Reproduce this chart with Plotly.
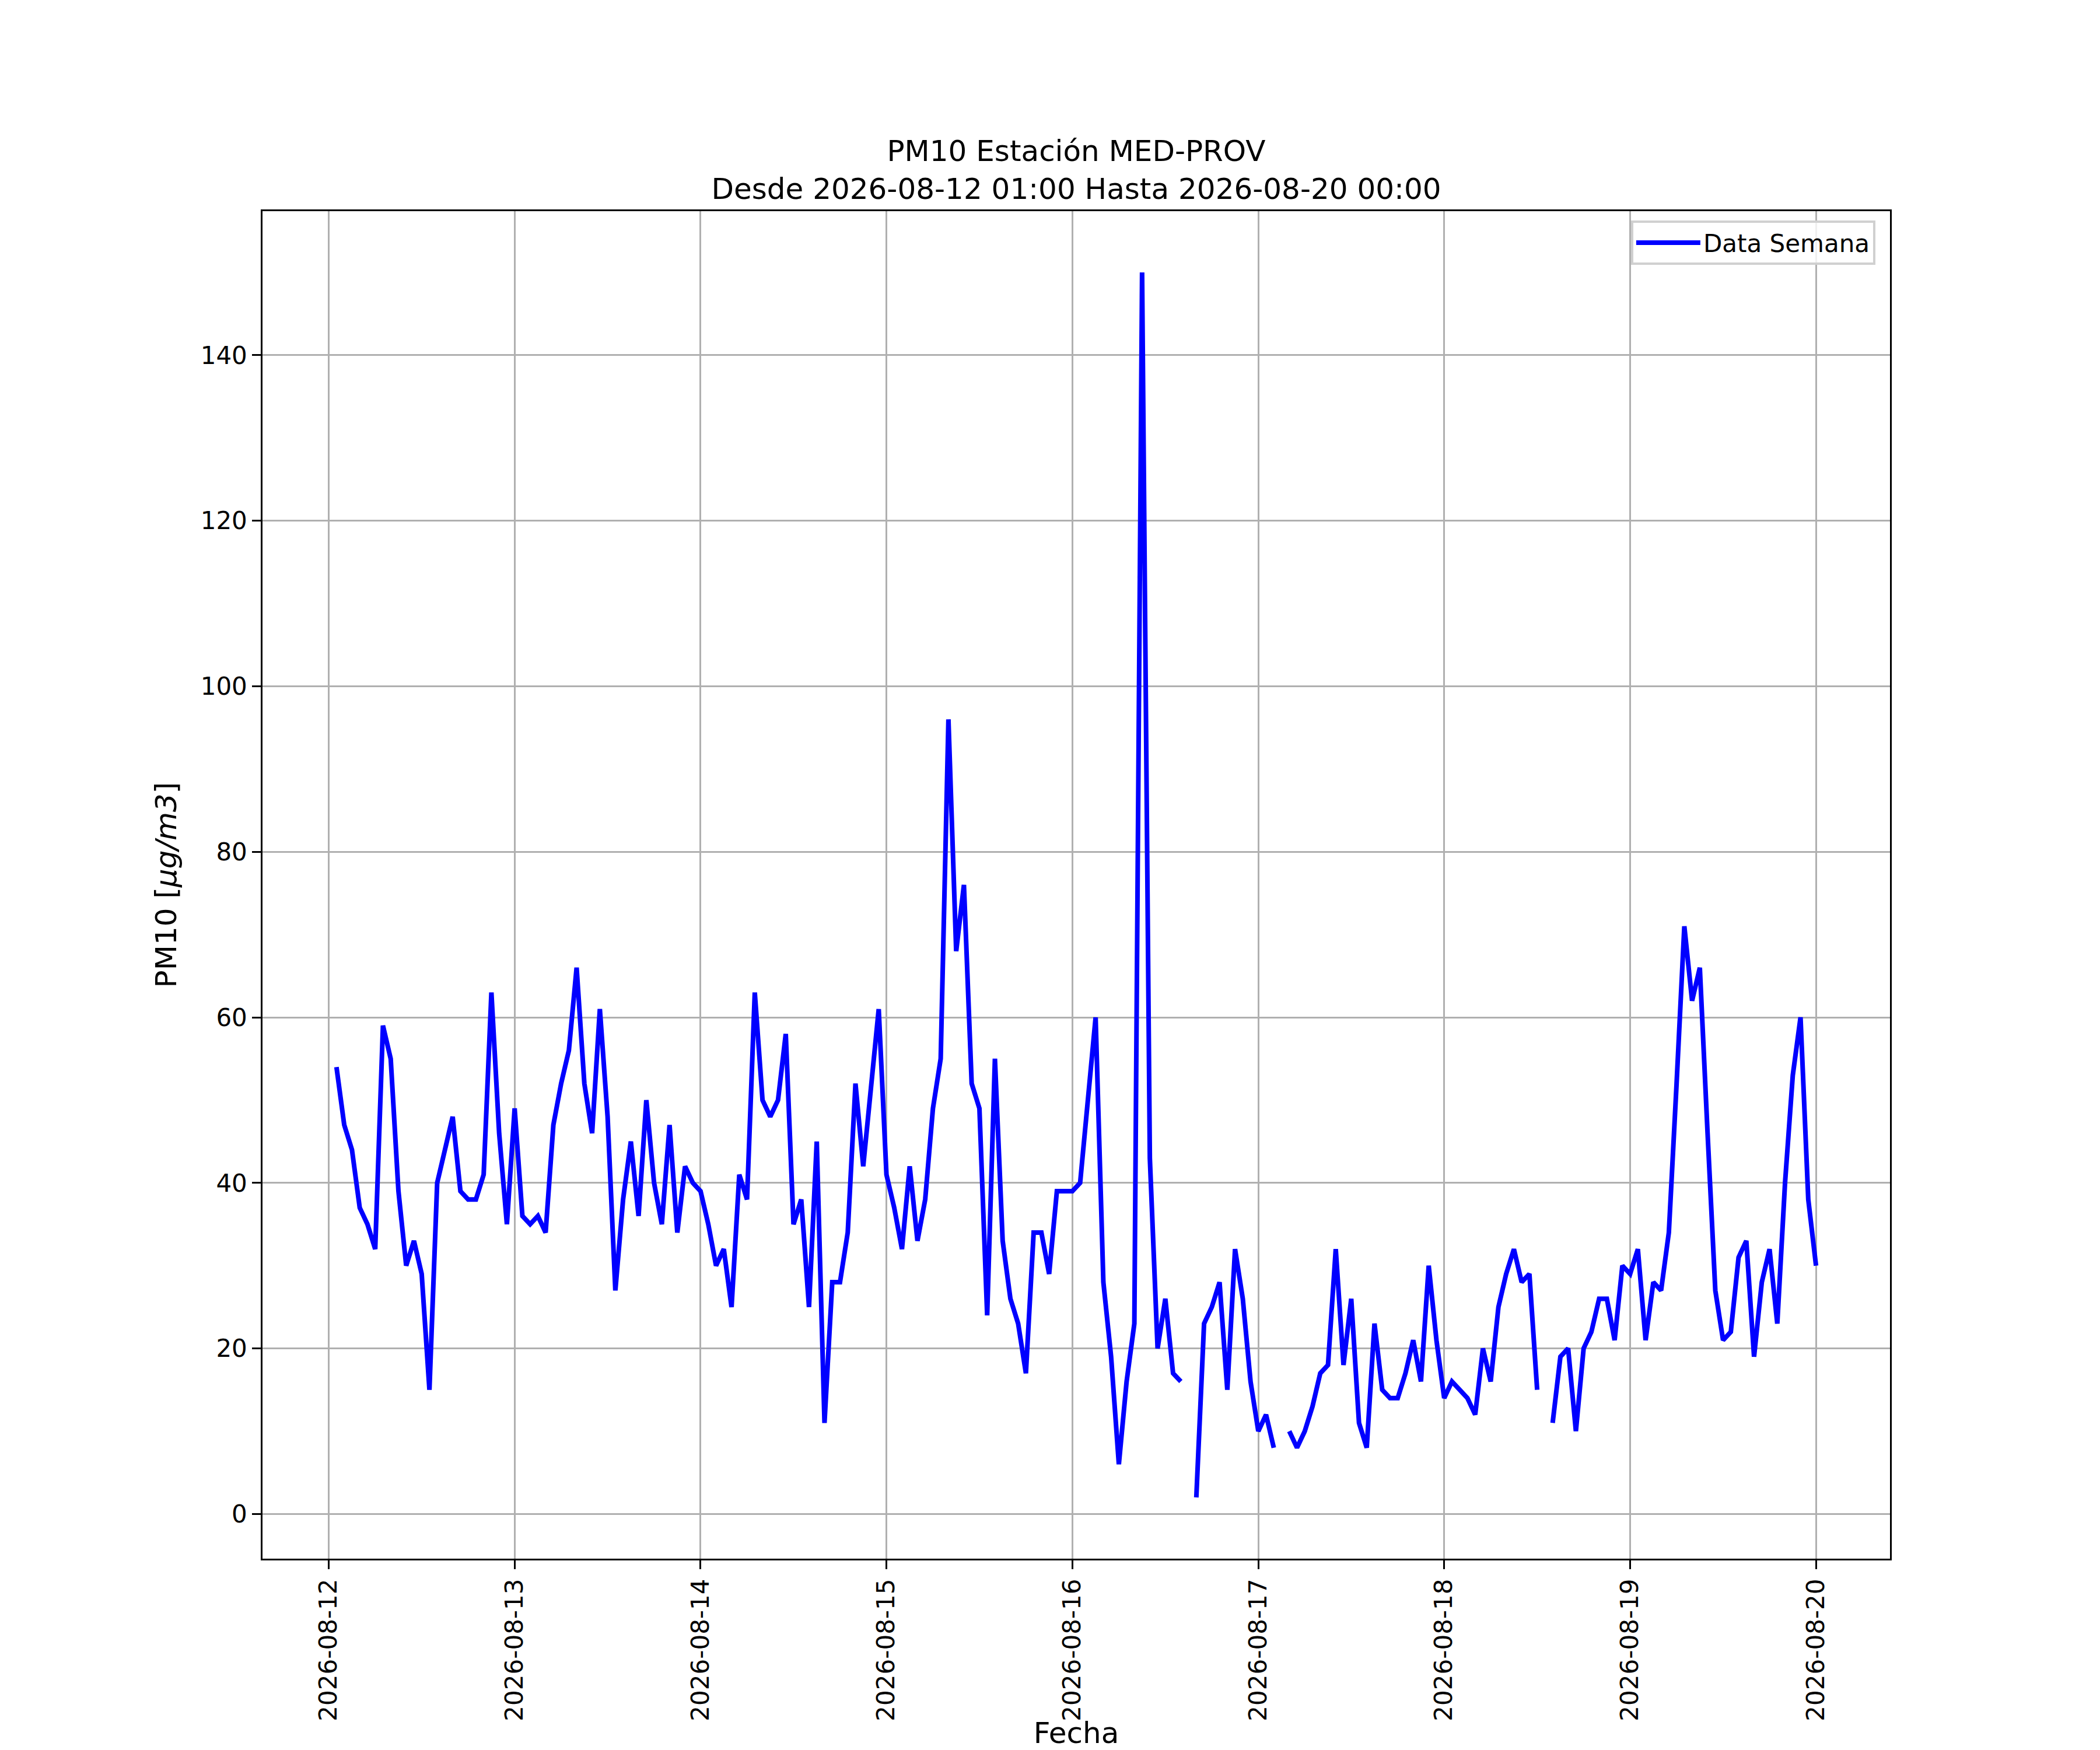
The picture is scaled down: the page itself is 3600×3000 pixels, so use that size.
import pandas as pd
import plotly.graph_objects as go

# PM10 hourly values, one list per day (01:00 ... 24:00), None = missing hour
day_12 = [54, 47, 44, 37, 35, 32, 59, 55, 39, 30, 33, 29, 15, 40, 44, 48, 39, 38, 38, 41, 63, 46, 35, 49]
day_13 = [36, 35, 36, 34, 47, 52, 56, 66, 52, 46, 61, 48, 27, 38, 45, 36, 50, 40, 35, 47, 34, 42, 40, 39]
day_14 = [35, 30, 32, 25, 41, 38, 63, 50, 48, 50, 58, 35, 38, 25, 45, 11, 28, 28, 34, 52, 42, 51, 61, 41]
day_15 = [37, 32, 42, 33, 38, 49, 55, 96, 68, 76, 52, 49, 24, 55, 33, 26, 23, 17, 34, 34, 29, 39, 39, 39]
day_16 = [40, 50, 60, 28, 19, 6, 16, 23, 150, 43, 20, 26, 17, 16, None, 2, 23, 25, 28, 15, 32, 26, 16, 10]
day_17 = [12, 8, None, 10, 8, 10, 13, 17, 18, 32, 18, 26, 11, 8, 23, 15, 14, 14, 17, 21, 16, 30, 21, 14]
day_18 = [16, 15, 14, 12, 20, 16, 25, 29, 32, 28, 29, 15, None, 11, 19, 20, 10, 20, 22, 26, 26, 21, 30, 29]
day_19 = [32, 21, 28, 27, 34, 52, 71, 62, 66, 46, 27, 21, 22, 31, 33, 19, 28, 32, 23, 40, 53, 60, 38, 30]

start = "2026-08-12 01:00"
end = "2026-08-20 00:00"
day_ticks = ["2026-08-12", "2026-08-13", "2026-08-14", "2026-08-15", "2026-08-16",
             "2026-08-17", "2026-08-18", "2026-08-19", "2026-08-20"]
y_ticks = [0, 20, 40, 60, 80, 100, 120, 140]

pm10 = day_12 + day_13 + day_14 + day_15 + day_16 + day_17 + day_18 + day_19
fechas = pd.date_range(start, end, freq="h")

# matplotlib-like 5% margins
t0, t1 = fechas[0], fechas[-1]
pad_t = (t1 - t0) * 0.05
vals = [v for v in pm10 if v is not None]
pad_y = (max(vals) - min(vals)) * 0.05

font = "DejaVu Sans"
grid = "#b0b0b0"

# page body has an 8px margin, so the figure is 8px smaller than the window
W, H = 3592, 2992

fig = go.Figure()
fig.add_trace(go.Scatter(x=fechas, y=pm10, mode="lines", name="Data Semana",
                         line=dict(color="#0000ff", width=8), connectgaps=False))

fig.update_layout(
    width=W, height=H,
    paper_bgcolor="white", plot_bgcolor="white",
    margin=dict(l=442, r=360, t=354, b=328, autoexpand=False),
    font=dict(family=font, size=42, color="black"),
    title=dict(text="PM10 Estación MED-PROV<br>Desde 2026-08-12 01:00 Hasta 2026-08-20 00:00",
               x=1837 / W, xanchor="center", xref="container",
               y=1 - 268 / H, yanchor="middle", yref="container",
               font=dict(family=font, size=50, color="black")),
    showlegend=True,
    legend=dict(x=0.991, y=0.993, xanchor="right", yanchor="top", itemwidth=110,
                bgcolor="rgba(255,255,255,0.8)", bordercolor="#d0d0d0", borderwidth=4,
                font=dict(family=font, size=42, color="black")),
)

fig.update_xaxes(
    type="date", range=[t0 - pad_t, t1 + pad_t],
    tickvals=day_ticks, tickformat="%Y-%m-%d", tickangle=-90,
    showgrid=True, gridcolor=grid, gridwidth=3.3,
    showline=True, mirror=True, linecolor="black", linewidth=3.3,
    ticks="outside", ticklen=14.6, tickwidth=3.3, tickcolor="black",
    tickfont=dict(family=font, size=42),
    title=dict(text="Fecha", font=dict(family=font, size=50), standoff=26),
    zeroline=False,
)
fig.update_yaxes(
    range=[min(vals) - pad_y, max(vals) + pad_y],
    tickvals=y_ticks,
    showgrid=True, gridcolor=grid, gridwidth=3.3,
    showline=True, mirror=True, linecolor="black", linewidth=3.3,
    ticks="outside", ticklen=14.6, tickwidth=3.3, tickcolor="black",
    tickfont=dict(family=font, size=42),
    title=dict(text="PM10 [<i>μg/m3</i>]", font=dict(family=font, size=50), standoff=26),
    zeroline=False,
)

fig.write_html("out.html")
